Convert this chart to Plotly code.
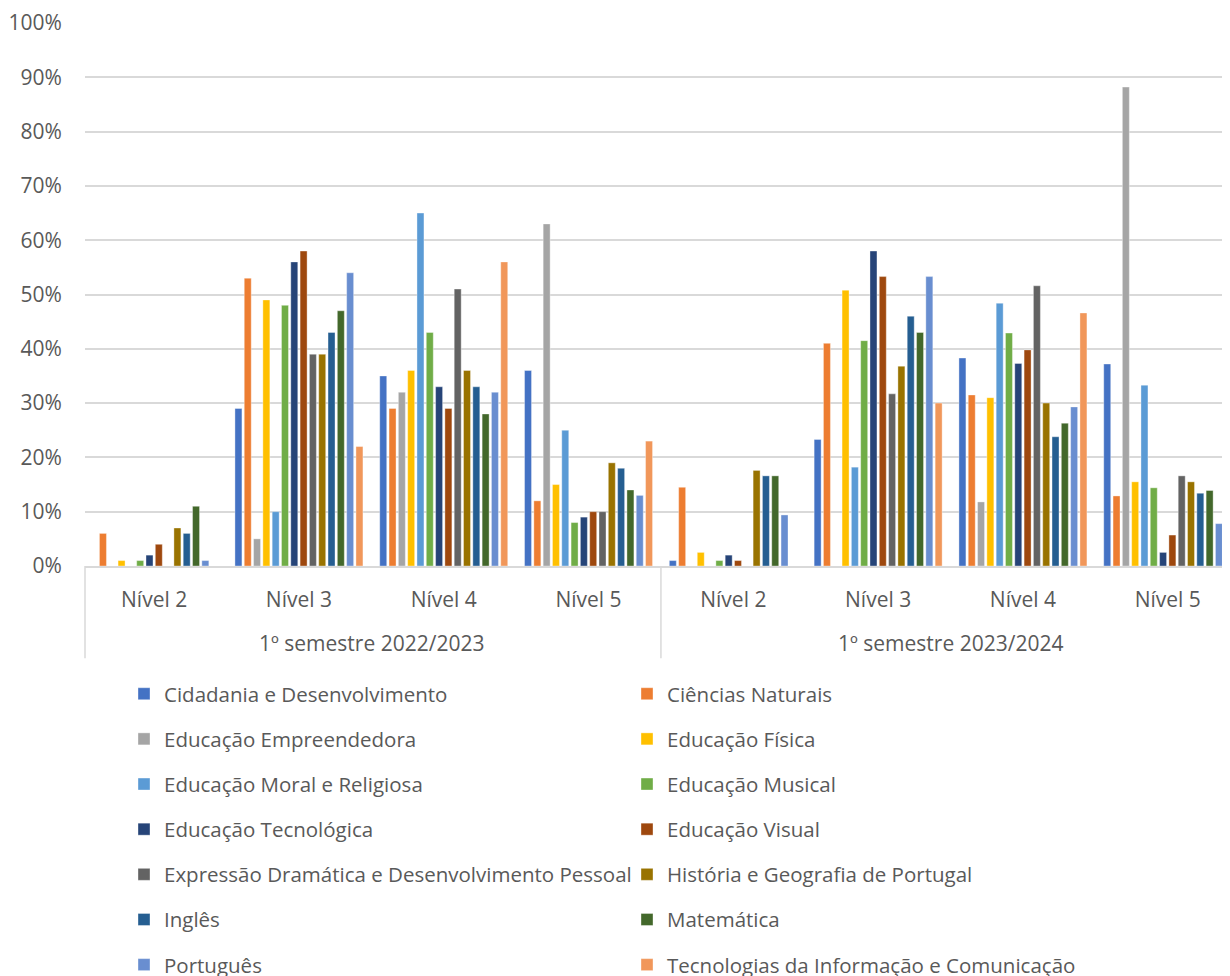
import plotly.graph_objects as go

semester_labels = ["1º semestre 2022/2023", "1º semestre 2023/2024"]
levels = ["Nível 2", "Nível 3", "Nível 4", "Nível 5"] * 2
group_pos = list(range(len(levels)))

series_names = [
    "Cidadania e Desenvolvimento", "Ciências Naturais",
    "Educação Empreendedora", "Educação Física",
    "Educação Moral e Religiosa", "Educação Musical",
    "Educação Tecnológica", "Educação Visual",
    "Expressão Dramática e Desenvolvimento Pessoal", "História e Geografia de Portugal",
    "Inglês", "Matemática",
    "Português", "Tecnologias da Informação e Comunicação",
]

colors = ["#4472C4", "#ED7D31", "#A5A5A5", "#FFC000", "#5B9BD5", "#70AD47",
          "#264478", "#9E480E", "#636363", "#997300", "#255E91", "#43682B",
          "#698ED0", "#F1975A"]

# values (%) per series across the 8 groups
cidadania = [0, 29, 35, 36, 1.0, 23.3, 38.3, 37.2]
ciencias = [6, 53, 29, 12, 14.5, 41.0, 31.5, 12.9]
empreendedora = [0, 5, 32, 63, 0, 0, 11.8, 88.2]
fisica = [1, 49, 36, 15, 2.5, 50.8, 31.0, 15.5]
moral = [0, 10, 65, 25, 0, 18.2, 48.4, 33.3]
musical = [1, 48, 43, 8, 1.0, 41.5, 42.9, 14.4]
tecnologica = [2, 56, 33, 9, 2.0, 58.0, 37.3, 2.5]
visual = [4, 58, 29, 10, 1.0, 53.3, 39.8, 5.7]
dramatica = [0, 39, 51, 10, 0, 31.7, 51.6, 16.6]
hgp = [7, 39, 36, 19, 17.6, 36.8, 30.0, 15.5]
ingles = [6, 43, 33, 18, 16.6, 46.0, 23.8, 13.4]
matematica = [11, 47, 28, 14, 16.6, 43.0, 26.3, 13.9]
portugues = [1, 54, 32, 13, 9.4, 53.3, 29.3, 7.8]
tic = [0, 22, 56, 23, 0, 30.0, 46.6, 23.3]

all_values = [cidadania, ciencias, empreendedora, fisica, moral, musical, tecnologica,
              visual, dramatica, hgp, ingles, matematica, portugues, tic]

FONT = "Open Sans"
TXT = "#595959"
GRID = "#d9d9d9"
AX_SIZE = 21
LEG_SIZE = 20.5

fig = go.Figure()
for i, (name, vals, col) in enumerate(zip(series_names, all_values, colors)):
    fig.add_trace(go.Bar(
        x=group_pos,
        y=[v / 100 for v in vals],
        name=name,
        marker=dict(color=col, line=dict(color="rgba(255,255,255,0.6)", width=0.6)),
        legend="legend" if i % 2 == 0 else "legend2",
        legendgroup=name,
        hovertemplate="%{y:.1%}<extra>" + name + "</extra>",
    ))

legend_common = dict(
    orientation="v",
    xref="paper", yref="paper",
    yanchor="top",
    y=-0.2024 + 2 / 543,
    tracegroupgap=15.5,
    font=dict(family=FONT, size=LEG_SIZE, color=TXT),
    bgcolor="rgba(0,0,0,0)",
    itemclick=False, itemdoubleclick=False,
)

# page body adds 8px margin, so the figure is sized 8px smaller
W, H = 1222, 968
L, T, B = 77, 15, 410
plot_w = W - L
fig.update_layout(
    width=W, height=H,
    margin=dict(l=L, r=0, t=T, b=B, autoexpand=False),
    paper_bgcolor="white", plot_bgcolor="white",
    barmode="group",
    bargap=0.1,
    bargroupgap=0.25,
    font=dict(family=FONT, size=AX_SIZE, color=TXT),
    legend=dict(x=(116 - L) / plot_w, xanchor="left", **legend_common),
    legend2=dict(x=(619 - L) / plot_w, xanchor="left", **legend_common),
    showlegend=True,
)

# semester labels under the level labels
for k, lab in enumerate(semester_labels):
    fig.add_annotation(
        x=1.5 + 4 * k, y=-0.142, xref="x", yref="paper",
        text=lab, showarrow=False,
        font=dict(family=FONT, size=AX_SIZE, color=TXT),
        xanchor="center", yanchor="middle",
    )
# category dividers: left edge of the plot and between the two semesters
fig.add_shape(type="line", xref="paper", yref="paper",
              x0=0, x1=0, y0=0, y1=-0.17, line=dict(color=GRID, width=1.5))
fig.add_shape(type="line", xref="x", yref="paper",
              x0=3.5, x1=3.5, y0=0, y1=-0.17, line=dict(color=GRID, width=1.5))

fig.update_xaxes(
    range=[-0.4775, 7.43],
    tickmode="array", tickvals=group_pos, ticktext=levels,
    showline=True, linecolor=GRID, linewidth=1.5,
    tickfont=dict(family=FONT, size=AX_SIZE, color=TXT),
    ticks="outside", ticklen=14, tickcolor="rgba(0,0,0,0)",
    showgrid=False, zeroline=False,
)
fig.update_yaxes(
    range=[0, 1],
    dtick=0.1,
    tickformat=".0%",
    showgrid=True, gridcolor=GRID, gridwidth=1.5,
    zeroline=False,
    tickfont=dict(family=FONT, size=AX_SIZE, color=TXT),
    ticks="outside", ticklen=18, tickcolor="rgba(0,0,0,0)",
)

fig.write_html("out.html")
